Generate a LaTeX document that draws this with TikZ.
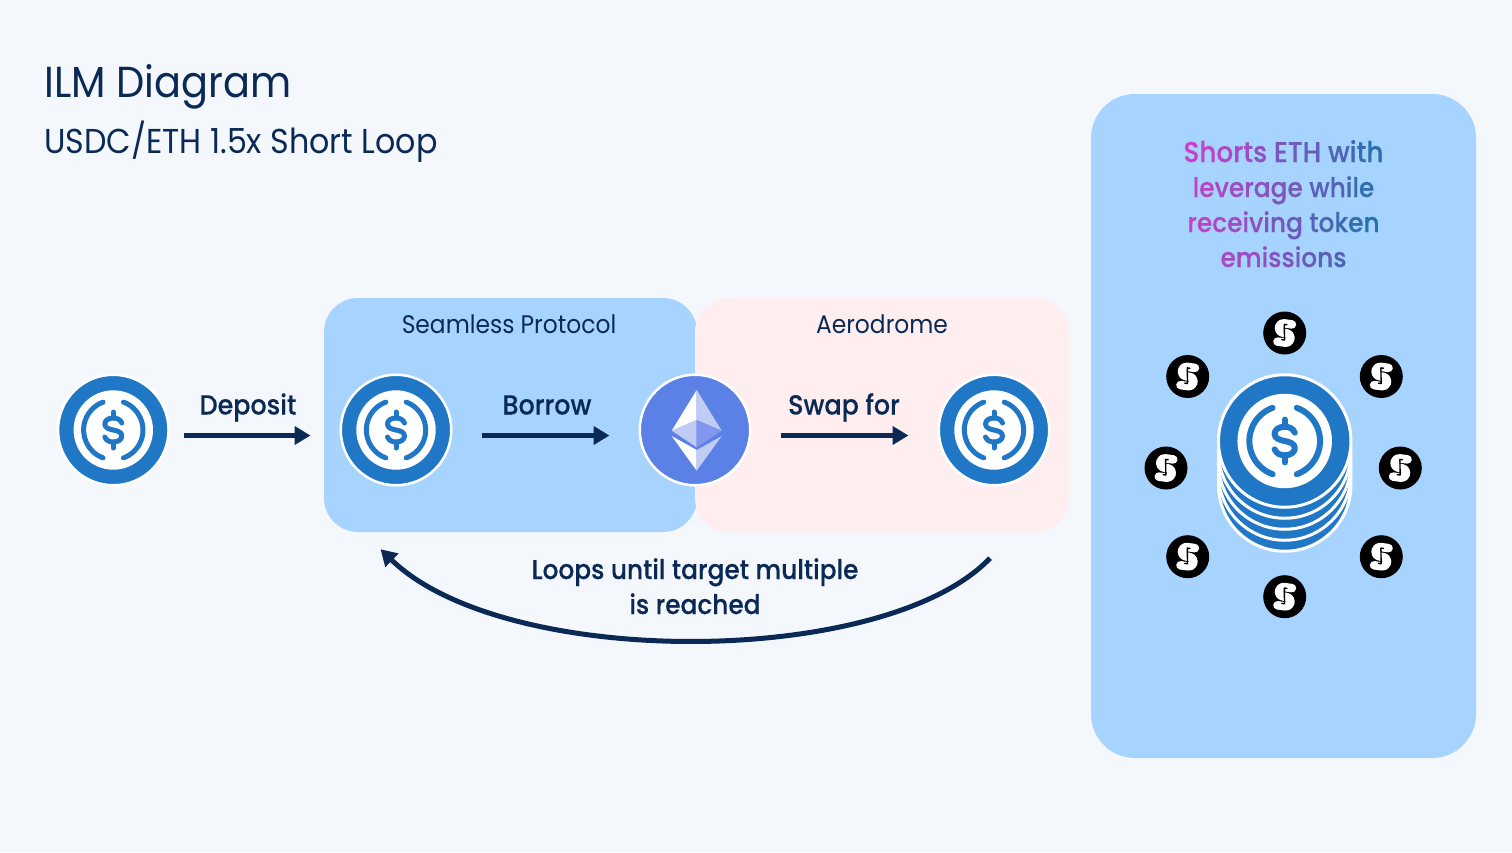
\documentclass[tikz,border=0pt]{standalone}
\usepackage{fontspec}
\setmainfont[FakeStretch=0.92]{Poppins}
\newfontfamily\labelfont[FakeStretch=0.92,FakeBold=0.3]{Poppins Medium}
\usetikzlibrary{arrows.meta}

\definecolor{pagebg}{HTML}{F4F7FC}
\definecolor{navy}{HTML}{0A2A55}
\definecolor{panelblue}{HTML}{A6D4FF}
\definecolor{panelpink}{HTML}{FFEEEF}
\definecolor{usdcblue}{HTML}{1F77C6}
\definecolor{ethblue}{HTML}{5C81E6}
\definecolor{ethpale}{HTML}{C1CCF5}
\definecolor{ethmid}{HTML}{8197EE}
\definecolor{gradleft}{HTML}{C93FCB}
\definecolor{gradright}{HTML}{2A70AE}

% one colour per letter, drifting from left to right
\newcount\gradpos
\makeatletter
\newcommand\gradword[1]{\@tfor\gradch:=#1\do{\textcolor{gradleft!\the\gradpos!gradright}{\gradch}\advance\gradpos by -7\relax}}
\makeatother
\newcommand\gradgap{\ \advance\gradpos by -7\relax}

\tikzset{
  panel/.style={minimum width=#1, minimum height=234, rounded corners=34, inner sep=0},
  coinbase/.style={circle, inner sep=0, minimum size=110.5, fill=usdcblue, draw=white, line width=2.5},
  ethbase/.style={coinbase, fill=ethblue},
  stackbase/.style={coinbase, minimum size=132.5, line width=3},
  tokenbase/.style={circle, inner sep=0, minimum size=43, fill=black},
  flow/.style={navy, line width=5, -{Triangle[length=16,width=18]}},
  boxlabel/.style={navy, font=\fontsize{25.4}{30}\selectfont},
  steplabel/.style={navy, align=center, font=\labelfont\fontsize{27.6}{35}\selectfont},
  pics/usdcmark/.style={code={
    \fill[white] (0,0) circle (39.7);
    \draw[usdcblue, line width=#1, line cap=round]
      ({29.7*cos(110)},{29.7*sin(110)}) arc[start angle=110, end angle=250, radius=29.7];
    \draw[usdcblue, line width=#1, line cap=round]
      ({29.7*cos(-70)},{29.7*sin(-70)}) arc[start angle=-70, end angle=70, radius=29.7];
    \draw[usdcblue, line width=#1, line cap=round]
      (8.5,-7) .. controls (7,-11) and (3,-12) .. (0,-12)
      .. controls (-5,-12) and (-8.5,-9.5) .. (-8.5,-6)
      .. controls (-8.5,-2) and (-4,-0.8) .. (0,0)
      .. controls (4,0.8) and (8.5,2) .. (8.5,6)
      .. controls (8.5,9.5) and (5,12) .. (0,12)
      .. controls (-3,12) and (-7,11) .. (-8.5,7);
    \draw[usdcblue, line width=#1, line cap=round] (0,-12) -- (0,-18) (0,12) -- (0,18);
  }},
  pics/tokenmark/.style={code={
    \draw[white, line width=8.5, line cap=round]
      (6,-9.5) -- (-1,-9.5) .. controls (-8.5,-9.5) and (-8.5,0) .. (-1,0) -- (1,0)
      .. controls (8.5,0) and (8.5,9.5) .. (1,9.5) -- (-6,9.5);
    \draw[black, line width=1.4, line cap=round] (-1.6,-8.5) -- (0.8,7) (-1.6,-8.5) -- (1,-8.5) (0.8,7) -- (-2,7);
  }},
}

\begin{document}
\begin{tikzpicture}[x=1pt, y=-1pt, line join=round]
    \useasboundingbox (0,0) rectangle (1512,852);
    \fill[pagebg] (0,0) rectangle (1512,852);

    % panels
    \node[panel=373, fill=panelblue] (seamless) at (510.5,415) {};
    \node[panel=374, fill=panelpink] (aerodrome) at (882,415) {};
    \node[minimum width=385, minimum height=664, rounded corners=44, inner sep=0, fill=panelblue] (rewards) at (1283.5,426) {};

    % titles
    \node[navy, anchor=base west, inner sep=0, font=\fontsize{43.4}{46}\selectfont] (title) at (44,97) {ILM Diagram};
    \node[navy, anchor=base west, inner sep=0, font=\fontsize{34.5}{38}\selectfont] (subtitle) at (44,153) {USDC/ETH 1.5x Short Loop};
    \node[boxlabel, anchor=base] (seamlesslabel) at (509,333.5) {Seamless Protocol};
    \node[boxlabel, anchor=base] (aerodromelabel) at (882,333.5) {Aerodrome};

    % coins along the route
    \node[coinbase] (coinA) at (113.3,430) {};
    \node[coinbase] (coinB) at (396,430) {};
    \node[ethbase] (ethA) at (695,430) {};
    \node[coinbase] (coinC) at (994,430) {};
    \pic at (coinA) {usdcmark=5};
    \pic at (coinB) {usdcmark=5};
    \pic at (coinC) {usdcmark=5};

    % ether diamond
    \fill[white] (696.7,390) -- (671.7,430.7) -- (696.7,420) -- cycle;
    \fill[ethpale] (696.7,390) -- (721.7,430.7) -- (696.7,420) -- cycle;
    \fill[ethpale] (671.7,430.7) -- (696.7,420) -- (696.7,447.3) -- cycle;
    \fill[ethmid] (721.7,430.7) -- (696.7,420) -- (696.7,447.3) -- cycle;
    \fill[white] (671.7,436) -- (696.7,450) -- (696.7,470.7) -- cycle;
    \fill[ethpale] (721.7,436) -- (696.7,450) -- (696.7,470.7) -- cycle;

    % steps
    \node[steplabel, anchor=base] (depositlabel) at (248,414.5) {Deposit};
    \node[steplabel, anchor=base] (borrowlabel) at (547,414.5) {Borrow};
    \node[steplabel, anchor=base] (swaplabel) at (844,414.5) {Swap for};
    \draw[flow] ([shift={(14,5.5)}]coinA.east) -- ([shift={(-29,5.5)}]coinB.west);
    \draw[flow] ([shift={(29,5.5)}]coinB.east) -- ([shift={(-29,5.5)}]ethA.west);
    \draw[flow] ([shift={(29,5.5)}]ethA.east) -- ([shift={(-29,5.5)}]coinC.west);

    % loop back
    \node[steplabel, anchor=base, font=\labelfont\fontsize{27}{35}\selectfont] (looplabel) at (695,614) {Loops until target multiple\\is reached};
    \draw[flow] ([shift={(108,26)}]aerodrome.south) .. controls (885,668) and (505,670) .. ([shift={(-130,17)}]seamless.south);

    % reward panel text
    \node[anchor=base, align=center, inner sep=0, font=\labelfont\fontsize{27}{35}\selectfont] (rewardtext) at (1283.5,267) {%
      \fontsize{28.6}{35}\selectfont\gradpos=100 \gradword{Shorts}\gradgap\gradword{ETH}\gradgap\gradword{with}\\
      \gradpos=95 \gradword{leverage}\gradgap\gradword{while}\\
      \gradpos=97 \gradword{receiving}\gradgap\gradword{token}\\
      \gradpos=80 \gradword{emissions}};

    % stack of coins
    \foreach \n/\sy in {1/485,2/474,3/463,4/452} {
      \node[stackbase] (stack\n) at (1284.7,\sy) {};
    }
    \node[stackbase] (stacktop) at (1284.7,441) {};
    \pic[scale=1.19] at (stacktop) {usdcmark=6};

    % tokens around the stack
    \foreach \n/\tx/\ty in {1/1284.7/333,2/1187.7/376.5,3/1381.3/376.5,4/1166/468,5/1400.3/468,6/1187.7/556.7,7/1381.3/556.7,8/1284.7/596.7} {
      \node[tokenbase] (token\n) at (\tx,\ty) {};
      \pic[rotate=-8] at (token\n) {tokenmark};
    }
\end{tikzpicture}
\end{document}
